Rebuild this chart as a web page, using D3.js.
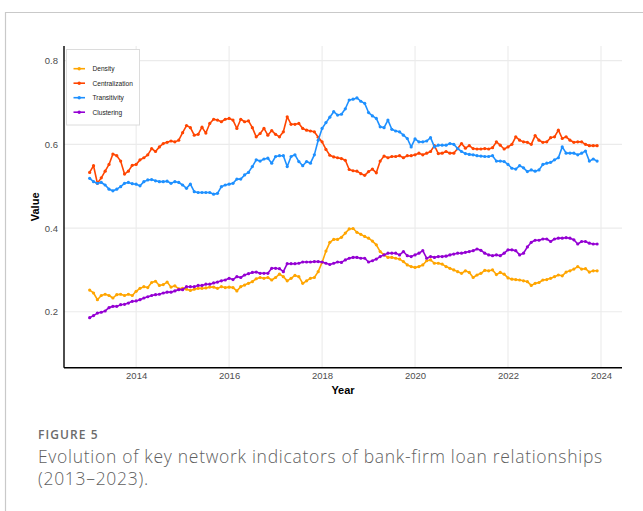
<!DOCTYPE html>
<html>
<head>
<meta charset="utf-8">
<script src="https://cdn.jsdelivr.net/npm/d3@7"></script>
<style>
  html, body { margin: 0; padding: 0; background: #fff; }
  svg { display: block; }
</style>
</head>
<body>
<svg id="chart" width="643" height="511"></svg>
<script>
// Monthly observations, January 2013 to December 2023
const startYear = 2013;
const seriesNames = ["Density", "Centralization", "Transitivity", "Clustering"];
const seriesColors = ["#FFA500", "#FF4500", "#1E90FF", "#9400D3"];

const density = [
  0.252,0.245,0.229,0.239,0.242,0.239,0.233,0.241,0.242,0.239,0.242,0.239,
  0.249,0.256,0.260,0.258,0.270,0.273,0.263,0.265,0.271,0.259,0.262,0.255,
  0.256,0.254,0.251,0.254,0.256,0.256,0.257,0.259,0.259,0.256,0.260,0.258,
  0.259,0.258,0.250,0.260,0.264,0.268,0.272,0.279,0.282,0.280,0.282,0.276,
  0.282,0.290,0.284,0.274,0.280,0.287,0.284,0.268,0.274,0.280,0.282,0.296,
  0.318,0.345,0.366,0.373,0.373,0.378,0.388,0.398,0.399,0.390,0.385,0.380,
  0.376,0.369,0.360,0.344,0.336,0.330,0.330,0.328,0.326,0.320,0.312,0.308,
  0.306,0.308,0.312,0.322,0.324,0.316,0.316,0.314,0.308,0.304,0.300,0.296,
  0.292,0.298,0.294,0.282,0.288,0.292,0.299,0.298,0.300,0.289,0.294,0.290,
  0.281,0.278,0.277,0.276,0.274,0.272,0.263,0.268,0.270,0.276,0.277,0.280,
  0.284,0.288,0.286,0.295,0.298,0.302,0.308,0.302,0.303,0.295,0.298,0.298
];

const centralization = [
  0.533,0.549,0.507,0.520,0.536,0.552,0.577,0.573,0.560,0.529,0.536,0.550,
  0.552,0.563,0.568,0.575,0.590,0.583,0.594,0.602,0.605,0.608,0.606,0.610,
  0.628,0.645,0.640,0.622,0.624,0.641,0.627,0.650,0.660,0.658,0.654,0.660,
  0.662,0.658,0.638,0.660,0.654,0.656,0.640,0.618,0.626,0.638,0.622,0.633,
  0.624,0.618,0.630,0.666,0.648,0.648,0.650,0.638,0.634,0.632,0.630,0.617,
  0.606,0.588,0.574,0.570,0.568,0.566,0.562,0.540,0.537,0.536,0.530,0.526,
  0.535,0.541,0.532,0.560,0.572,0.568,0.571,0.571,0.573,0.568,0.573,0.573,
  0.575,0.579,0.575,0.579,0.583,0.597,0.578,0.579,0.583,0.579,0.579,0.590,
  0.602,0.591,0.597,0.590,0.589,0.589,0.590,0.589,0.592,0.606,0.598,0.589,
  0.594,0.600,0.618,0.610,0.606,0.605,0.600,0.621,0.610,0.605,0.606,0.616,
  0.618,0.634,0.614,0.618,0.610,0.605,0.606,0.606,0.600,0.597,0.597,0.597
];

const transitivity = [
  0.519,0.511,0.507,0.509,0.503,0.493,0.489,0.493,0.499,0.507,0.509,0.506,
  0.505,0.501,0.511,0.515,0.516,0.513,0.511,0.511,0.512,0.507,0.511,0.509,
  0.503,0.495,0.505,0.487,0.485,0.485,0.485,0.485,0.481,0.483,0.499,0.503,
  0.505,0.507,0.517,0.517,0.527,0.533,0.547,0.563,0.560,0.565,0.567,0.555,
  0.571,0.573,0.573,0.547,0.571,0.575,0.559,0.549,0.559,0.555,0.575,0.610,
  0.638,0.652,0.665,0.678,0.670,0.672,0.685,0.706,0.708,0.711,0.703,0.698,
  0.676,0.668,0.662,0.642,0.640,0.658,0.636,0.632,0.630,0.622,0.614,0.594,
  0.613,0.606,0.606,0.608,0.616,0.594,0.598,0.598,0.598,0.602,0.600,0.590,
  0.583,0.578,0.576,0.575,0.573,0.572,0.571,0.571,0.573,0.560,0.560,0.559,
  0.552,0.543,0.541,0.549,0.544,0.535,0.539,0.536,0.539,0.552,0.555,0.557,
  0.563,0.568,0.594,0.579,0.579,0.579,0.575,0.579,0.584,0.560,0.565,0.560
];

const clustering = [
  0.186,0.191,0.197,0.199,0.202,0.210,0.213,0.213,0.217,0.218,0.221,0.225,
  0.226,0.229,0.233,0.236,0.239,0.241,0.242,0.245,0.247,0.247,0.250,0.253,
  0.253,0.260,0.260,0.260,0.263,0.263,0.266,0.266,0.269,0.271,0.274,0.276,
  0.280,0.277,0.284,0.282,0.288,0.291,0.294,0.295,0.292,0.292,0.292,0.304,
  0.304,0.303,0.296,0.315,0.315,0.315,0.316,0.319,0.319,0.319,0.320,0.320,
  0.319,0.316,0.313,0.316,0.319,0.318,0.324,0.328,0.330,0.330,0.328,0.328,
  0.319,0.322,0.326,0.332,0.336,0.340,0.340,0.340,0.336,0.344,0.334,0.332,
  0.336,0.340,0.346,0.328,0.332,0.330,0.332,0.332,0.333,0.336,0.338,0.340,
  0.340,0.342,0.344,0.346,0.350,0.347,0.340,0.336,0.334,0.336,0.334,0.340,
  0.348,0.348,0.346,0.336,0.340,0.355,0.366,0.371,0.371,0.374,0.374,0.368,
  0.374,0.376,0.376,0.377,0.376,0.372,0.362,0.368,0.368,0.364,0.362,0.362
];

const yTicks = [0.2, 0.4, 0.6, 0.8];
const xTicks = [2014, 2016, 2018, 2020, 2022, 2024];
const captionLabel = "FIGURE 5";
const captionLines = [
  "Evolution of key network indicators of bank-firm loan relationships",
  "(2013\u20132023)."
];

const allSeries = [density, centralization, transitivity, clustering].map((vals, k) => ({
  name: seriesNames[k],
  color: seriesColors[k],
  points: vals.map((v, i) => ({ t: startYear + i / 12, v }))
}));

const svg = d3.select("#chart");
const font = "'Liberation Sans', Arial, sans-serif";

// outer figure frame (top and left rules)
svg.append("path")
  .attr("d", "M5.5,511 V12.5 H643")
  .attr("fill", "none")
  .attr("stroke", "#c9c9c9")
  .attr("stroke-width", 1.2);

const panel = { left: 64, right: 622, top: 46, bottom: 367.7 };

const x = d3.scaleLinear().domain([2012.448, 2024.452]).range([panel.left, panel.right]);
const y = d3.scaleLinear().domain([0.0665, 0.835]).range([panel.bottom, panel.top]);

// grid
const grid = svg.append("g");
grid.selectAll("line.h").data(yTicks).join("line")
  .attr("x1", panel.left).attr("x2", panel.right)
  .attr("y1", d => y(d)).attr("y2", d => y(d))
  .attr("stroke", "#ebebeb").attr("stroke-width", 1.1);
grid.selectAll("line.v").data(xTicks).join("line")
  .attr("x1", d => x(d)).attr("x2", d => x(d))
  .attr("y1", panel.top).attr("y2", panel.bottom)
  .attr("stroke", "#ebebeb").attr("stroke-width", 1.1);

// axes
const xAxis = d3.axisBottom(x).tickValues(xTicks).tickFormat(d3.format("d")).tickSize(0).tickPadding(5);
const yAxis = d3.axisLeft(y).tickValues(yTicks).tickFormat(d3.format(".1f")).tickSize(0).tickPadding(6);

const gx = svg.append("g").attr("transform", `translate(0,${panel.bottom})`).call(xAxis);
gx.select(".domain").attr("d", `M${panel.left},0H${panel.right}`).attr("stroke", "#000").attr("stroke-width", 1.4);
gx.selectAll("text").attr("font-family", font).attr("font-size", 9.5).attr("fill", "#4d4d4d");

const gy = svg.append("g").attr("transform", `translate(${panel.left},0)`).call(yAxis);
gy.select(".domain").attr("d", `M0,${panel.top}V${panel.bottom}`).attr("stroke", "#000").attr("stroke-width", 1.4);
gy.selectAll("text").attr("font-family", font).attr("font-size", 9.5).attr("fill", "#4d4d4d");

// axis titles
svg.append("text")
  .attr("x", (panel.left + panel.right) / 2).attr("y", 394)
  .attr("text-anchor", "middle")
  .attr("font-family", font).attr("font-size", 11).attr("font-weight", "bold")
  .attr("fill", "#000").text("Year");
svg.append("text")
  .attr("transform", `translate(39,${(panel.top + panel.bottom) / 2}) rotate(-90)`)
  .attr("text-anchor", "middle")
  .attr("font-family", font).attr("font-size", 11).attr("font-weight", "bold")
  .attr("fill", "#000").text("Value");

// series
const line = d3.line().x(d => x(d.t)).y(d => y(d.v));
const gSeries = svg.append("g");
allSeries.forEach(s => {
  gSeries.append("path")
    .datum(s.points)
    .attr("d", line)
    .attr("fill", "none")
    .attr("stroke", s.color)
    .attr("stroke-width", 1.6)
    .attr("stroke-linejoin", "round");
  gSeries.append("g").selectAll("circle").data(s.points).join("circle")
    .attr("cx", d => x(d.t)).attr("cy", d => y(d.v))
    .attr("r", 1.6).attr("fill", s.color);
});

// legend
const legend = svg.append("g");
legend.append("rect")
  .attr("x", 66.5).attr("y", 49.5).attr("width", 73).attr("height", 75.5)
  .attr("fill", "#fff").attr("stroke", "#dcdcdc").attr("stroke-width", 1);
const legendY = [68.7, 83.2, 97.7, 112.2];
const items = legend.selectAll("g.item").data(allSeries).join("g")
  .attr("transform", (d, i) => `translate(0,${legendY[i]})`);
items.append("line")
  .attr("x1", 73.5).attr("x2", 85).attr("y1", 0).attr("y2", 0)
  .attr("stroke", d => d.color).attr("stroke-width", 1.6);
items.append("circle")
  .attr("cx", 79.2).attr("cy", 0).attr("r", 1.7)
  .attr("fill", d => d.color);
items.append("text")
  .attr("x", 92.5).attr("y", 0).attr("dy", "0.35em")
  .attr("font-family", font).attr("font-size", 6.6).attr("fill", "#222")
  .text(d => d.name);

// caption
const capFont = "'Open Sans', 'Noto Sans', sans-serif";
svg.append("text")
  .attr("x", 38).attr("y", 439)
  .attr("font-family", capFont).attr("font-size", 12).attr("font-weight", 600)
  .attr("letter-spacing", 1.1)
  .attr("fill", "#6b6b6b").text(captionLabel);
svg.selectAll("text.cap").data(captionLines).join("text")
  .attr("class", "cap")
  .attr("x", 38).attr("y", (d, i) => 462.5 + i * 22)
  .attr("font-family", capFont).attr("font-size", 17.5).attr("font-weight", 300)
  .attr("letter-spacing", 0.7)
  .attr("fill", "#5f5f5f").text(d => d);
</script>
</body>
</html>
